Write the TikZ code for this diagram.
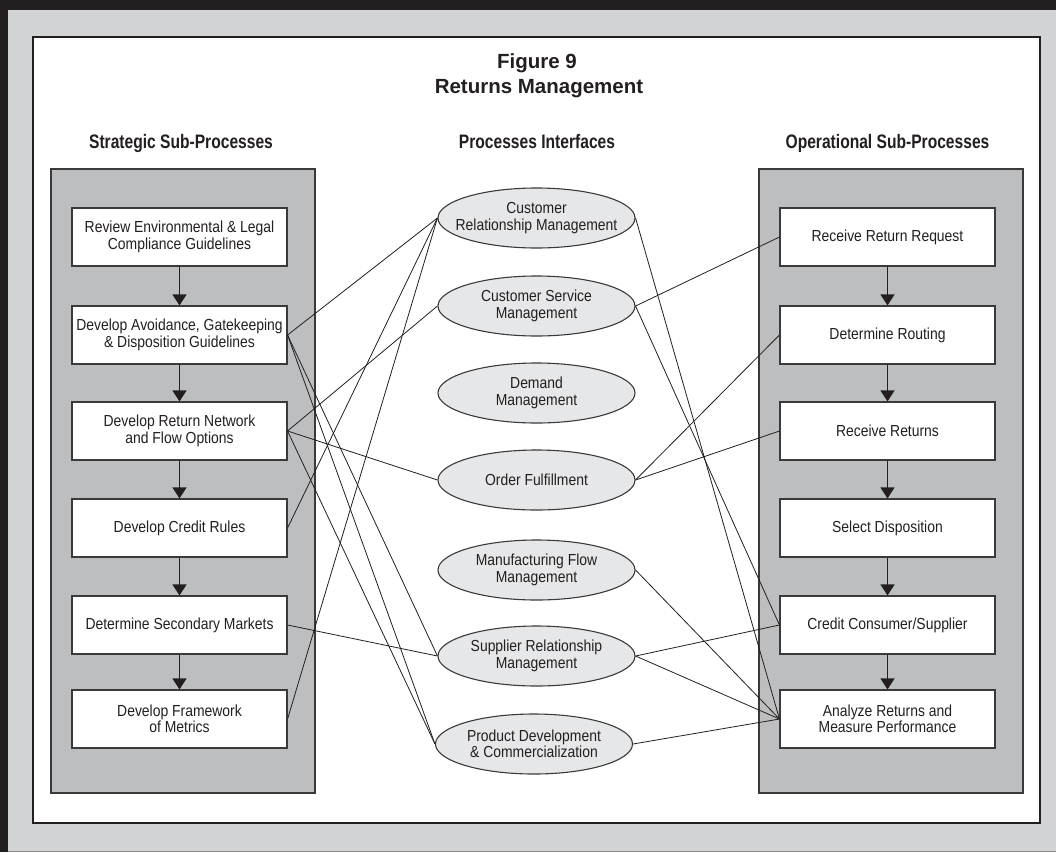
\documentclass[tikz,border=0pt]{standalone}
\usepackage{fontspec}
\setmainfont{Liberation Sans}
\newfontfamily\boxfont{Liberation Sans}[FakeStretch=0.87]
\newfontfamily\headfont{Liberation Sans}[FakeStretch=0.8]
\usetikzlibrary{shapes.geometric,arrows.meta}
\definecolor{outergray}{HTML}{D1D3D4}
\definecolor{panelgray}{HTML}{BCBEC0}
\definecolor{ellgray}{HTML}{E6E7E8}
\definecolor{ink}{HTML}{231F20}
\definecolor{edge}{HTML}{3A3A3A}
\tikzset{
  sbox/.style={rectangle, draw=edge, line width=1.1pt, fill=white, minimum width=215pt, minimum height=58pt,
    inner sep=0pt, align=center, text=ink, font=\boxfont\fontsize{16}{16.5}\selectfont},
  ell/.style={ellipse, draw=edge, line width=1.1pt, fill=ellgray, minimum width=197pt, minimum height=60pt, inner sep=0pt},
  etext/.style={align=center, text=ink, inner sep=0pt, font=\boxfont\fontsize{16}{16.5}\selectfont},
  heading/.style={anchor=base, text=ink, inner sep=0pt, font=\headfont\bfseries\fontsize{19.5}{22}\selectfont},
  panel/.style={draw=edge, line width=1.1pt, fill=panelgray},
  flow/.style={draw=ink, line width=1.2pt, -{Triangle[width=14pt,length=11pt]}},
  conn/.style={draw=ink, line width=0.8pt}
}
\begin{document}
\begin{tikzpicture}[x=1pt,y=-1pt]
\useasboundingbox (0,0) rectangle (1056,852);
% frame
\fill[outergray] (0,0) rectangle (1056,852);
\fill[ink] (0,0) rectangle (1056,10);
\fill[ink] (0,0) rectangle (8,852);
\draw[edge!60, line width=0.8pt] (8,851.5) -- (1056,851.5);
\draw[ink, line width=1.4pt, fill=white] (33,37) rectangle (1040,823);
% title
\node[anchor=base, text=ink, inner sep=0pt, font=\bfseries\fontsize{20.5}{25}\selectfont] (t1) at (537,68) {Figure 9};
\node[anchor=base, text=ink, inner sep=0pt, font=\bfseries\fontsize{20.5}{25}\selectfont] (t2) at (539,93) {Returns Management};
% headings
\node[heading] (h1) at (181,148) {Strategic Sub-Processes};
\node[heading] (h2) at (537,148) {Processes Interfaces};
\node[heading] (h3) at (887.5,148) {Operational Sub-Processes};
% panels
\draw[panel] (51,169) rectangle (315,793);
\draw[panel] (759,169) rectangle (1023,793);
% left boxes
\node[sbox] (L1) at (179.5,237) {Review Environmental \& Legal\\Compliance Guidelines};
\node[sbox] (L2) at (179.5,335) {Develop Avoidance, Gatekeeping\\\& Disposition Guidelines};
\node[sbox] (L3) at (179.5,431) {Develop Return Network\\and Flow Options};
\node[sbox] (L4) at (179.5,528) {Develop Credit Rules};
\node[sbox] (L5) at (179.5,625) {Determine Secondary Markets};
\node[sbox] (L6) at (179.5,719) {Develop Framework\\of Metrics};
% right boxes
\node[sbox] (R1) at (887.5,237) {Receive Return Request};
\node[sbox] (R2) at (887.5,335) {Determine Routing};
\node[sbox] (R3) at (887.5,431) {Receive Returns};
\node[sbox] (R4) at (887.5,528) {Select Disposition};
\node[sbox] (R5) at (887.5,625) {Credit Consumer/Supplier};
\node[sbox] (R6) at (887.5,719) {Analyze Returns and\\Measure Performance};
% flow arrows
\foreach \a/\b in {L1/L2,L2/L3,L3/L4,L4/L5,L5/L6,R1/R2,R2/R3,R3/R4,R4/R5,R5/R6}
  \draw[flow] (\a.south) -- (\b.north);
% ellipses
\node[ell] (CRM) at (536.5,218) {};
\node[ell] (CSM) at (536.5,306) {};
\node[ell] (DM)  at (536.5,393) {};
\node[ell] (OF)  at (536.5,480) {};
\node[ell] (MFM) at (536.5,570) {};
\node[ell] (SRM) at (536.5,656) {};
\node[ell] (PDC) at (534,744) {};
\node[etext] (CRMt) at (CRM) {Customer\\Relationship Management};
\node[etext] (CSMt) at (CSM) {Customer Service\\Management};
\node[etext] (DMt)  at (DM)  {Demand\\Management};
\node[etext] (OFt)  at (OF)  {Order Fulfillment};
\node[etext] (MFMt) at (MFM) {Manufacturing Flow\\Management};
\node[etext] (SRMt) at (SRM) {Supplier Relationship\\Management};
\node[etext] (PDCt) at (PDC) {Product Development\\\& Commercialization};
% connectors left
\draw[conn] (L2.east) -- (CRM.west);
\draw[conn] (L2.east) -- (SRM.west);
\draw[conn] (L2.east) -- (PDC.west);
\draw[conn] (L3.east) -- (CSM.west);
\draw[conn] (L3.east) -- (OF.west);
\draw[conn] (L3.east) -- (PDC.west);
\draw[conn] (L4.east) -- (CRM.west);
\draw[conn] (L5.east) -- (SRM.west);
\draw[conn] (L6.east) -- (CRM.west);
% connectors right
\draw[conn] (CRM.east) -- (R6.west);
\draw[conn] (CSM.east) -- (R1.west);
\draw[conn] (CSM.east) -- (R5.west);
\draw[conn] (OF.east) -- (R2.west);
\draw[conn] (OF.east) -- (R3.west);
\draw[conn] (MFM.east) -- (R6.west);
\draw[conn] (SRM.east) -- (R5.west);
\draw[conn] (SRM.east) -- (R6.west);
\draw[conn] (PDC.east) -- (R6.west);
\end{tikzpicture}
\end{document}
